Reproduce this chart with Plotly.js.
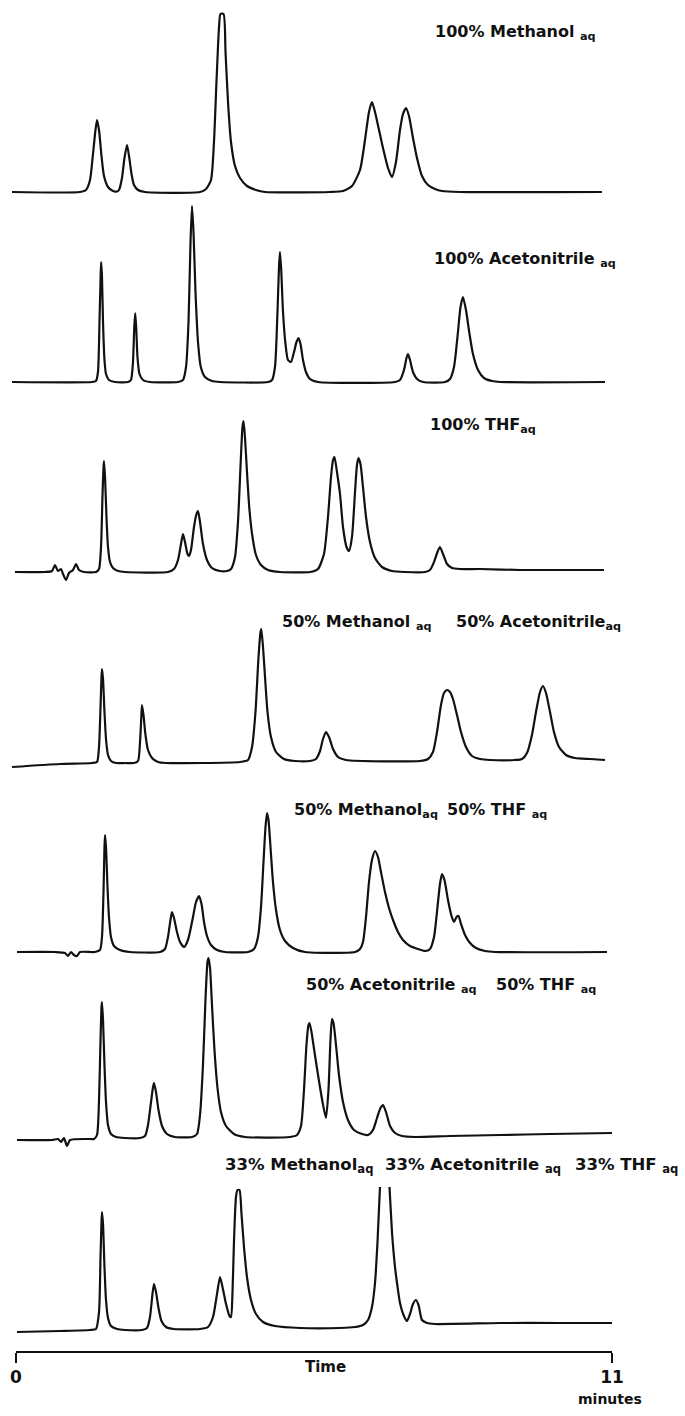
<!DOCTYPE html>
<html>
<head>
<meta charset="utf-8">
<script src="https://cdn.plot.ly/plotly-3.0.1.min.js"></script>
<style>
html,body{margin:0;padding:0;background:#fff;}
#chart{width:685px;height:1416px;}
</style>
</head>
<body>
<div id="chart"></div>
<script>
// ---------- DATA (time in minutes, detector response in arbitrary units) ----------
const time1 = [-0.074,1.181,1.292,1.366,1.421,1.467,1.495,1.532,1.578,1.624,1.698,1.790,1.864,1.901,1.956,2.002,2.049,2.086,2.132,2.178,2.252,2.381,3.396,3.507,3.599,3.654,3.700,3.747,3.774,3.830,3.867,3.913,3.968,4.042,4.134,4.263,4.429,4.596,5.795,6.035,6.201,6.349,6.441,6.515,6.570,6.626,6.700,6.773,6.866,6.939,7.013,7.087,7.142,7.198,7.253,7.327,7.401,7.493,7.604,7.733,7.862,8.194,10.815];
const resp1 = [0,0,2,12,38,62,72,62,36,16,5,1,0.5,2,14,34,47,36,18,7,2,0,0,3,12,50,110,165,178,178,140,90,50,26,14,6,2,0,0,1,6,22,52,80,90,80,62,44,24,15,30,62,78,84,76,54,34,16,7,3,1,0,0];

const time2 = [-0.074,1.403,1.476,1.513,1.541,1.564,1.572,1.587,1.606,1.633,1.661,1.716,1.827,2.067,2.122,2.159,2.183,2.200,2.218,2.242,2.279,2.344,2.473,2.990,3.082,3.138,3.184,3.221,3.248,3.276,3.313,3.359,3.411,3.488,3.617,3.765,4.651,4.725,4.780,4.826,4.854,4.872,4.895,4.928,4.974,5.020,5.075,5.131,5.177,5.214,5.251,5.297,5.352,5.426,5.574,6.995,7.087,7.161,7.207,7.235,7.272,7.327,7.401,7.512,7.918,8.010,8.084,8.148,8.204,8.250,8.305,8.370,8.434,8.527,8.637,8.785,8.933,10.871];
const resp2 = [0,0,1,10,60,110,120,105,60,22,8,2,0,0,2,20,55,69,55,25,8,2,0,0,2,15,60,140,176,150,90,40,15,5,1,0,0,2,15,70,115,130,112,70,38,22,20,30,40,44,38,22,10,3,0,0,2,12,24,28,22,10,3,0,0,3,15,45,75,85,72,48,28,12,4,1,0,0];

const time3 = [-0.018,0.535,0.664,0.720,0.775,0.831,0.867,0.923,0.978,1.052,1.107,1.163,1.255,1.476,1.532,1.569,1.596,1.615,1.624,1.643,1.670,1.698,1.735,1.790,1.883,2.012,2.805,2.916,2.990,3.045,3.082,3.119,3.165,3.193,3.230,3.285,3.331,3.359,3.396,3.451,3.525,3.617,3.765,3.894,3.968,4.042,4.097,4.143,4.180,4.199,4.226,4.263,4.309,4.365,4.429,4.522,4.651,4.872,5.426,5.574,5.684,5.758,5.814,5.851,5.878,5.924,5.980,6.035,6.100,6.146,6.201,6.257,6.293,6.321,6.358,6.404,6.460,6.533,6.626,6.755,6.939,7.179,7.549,7.641,7.715,7.779,7.825,7.881,7.955,8.047,8.194,8.564,9.302,10.852];
const resp3 = [0,0,1,7,1,3,-2,-8,-1,2,8,2,0,0,3,25,75,105,111,95,55,25,10,4,1,0,0,3,12,28,38,30,18,16,22,45,58,61,50,28,12,4,1,1,3,15,50,105,145,151,135,100,62,35,17,7,2,0,0,3,18,55,95,112,115,100,78,45,25,21,35,80,107,114,108,85,55,30,14,5,1,0,0,2,10,20,25,18,8,4,3,3,2,2];

const time4 = [-0.074,0.812,1.403,1.495,1.532,1.560,1.578,1.587,1.606,1.633,1.661,1.698,1.753,1.846,2.012,2.178,2.252,2.289,2.313,2.325,2.353,2.390,2.436,2.510,2.621,2.768,4.134,4.282,4.356,4.420,4.476,4.513,4.527,4.559,4.596,4.642,4.706,4.799,4.946,5.149,5.426,5.537,5.611,5.666,5.721,5.777,5.851,5.943,6.090,7.456,7.604,7.696,7.770,7.844,7.899,7.955,8.010,8.065,8.139,8.213,8.305,8.416,8.564,8.748,9.210,9.339,9.431,9.523,9.597,9.671,9.726,9.782,9.856,9.929,10.022,10.151,10.317,10.594,10.871];
const resp4 = [0,3,4,5,20,60,90,98,88,55,28,12,6,4,4,4,6,25,50,62,52,32,17,9,5,4,5,7,20,55,110,135,138,120,90,55,30,15,8,6,6,8,16,28,35,30,18,10,7,6,8,15,35,62,74,77,75,68,52,35,20,11,8,7,7,8,14,32,55,75,81,74,55,35,20,12,9,8,7];

const time5 = [0.018,0.720,0.904,0.960,1.015,1.070,1.126,1.181,1.458,1.550,1.587,1.615,1.633,1.643,1.661,1.689,1.716,1.753,1.809,1.919,2.104,2.658,2.750,2.805,2.851,2.879,2.916,2.971,3.027,3.101,3.174,3.267,3.322,3.378,3.424,3.470,3.525,3.599,3.710,3.857,4.282,4.393,4.466,4.522,4.568,4.605,4.632,4.660,4.697,4.743,4.799,4.872,4.965,5.112,5.334,6.257,6.349,6.404,6.460,6.515,6.570,6.626,6.681,6.736,6.810,6.884,6.958,7.050,7.142,7.272,7.419,7.549,7.641,7.715,7.770,7.825,7.862,7.908,7.973,8.038,8.084,8.130,8.167,8.213,8.287,8.379,8.490,8.656,8.840,10.908];
const resp5 = [0,0,-1,-4,0,-3,-4,0,0,2,15,60,105,117,105,65,35,15,6,2,0,0,3,15,32,40,34,20,10,5,12,35,50,56,48,30,16,7,2,0,0,3,15,45,90,125,139,132,105,70,42,22,11,4,0,0,3,10,35,70,92,101,95,80,60,44,32,20,12,6,3,1,3,15,40,68,78,72,52,36,30,35,36,28,17,9,4,1,0,0];

const time6 = [0.018,0.664,0.775,0.831,0.886,0.941,0.997,1.366,1.440,1.495,1.532,1.560,1.578,1.587,1.606,1.633,1.661,1.698,1.753,1.846,2.012,2.289,2.381,2.436,2.492,2.529,2.547,2.584,2.630,2.695,2.787,2.935,3.248,3.341,3.396,3.451,3.497,3.534,3.553,3.581,3.617,3.663,3.719,3.783,3.876,4.023,4.226,5.057,5.186,5.260,5.315,5.361,5.398,5.417,5.454,5.509,5.583,5.657,5.721,5.767,5.804,5.832,5.860,5.906,5.961,6.035,6.127,6.238,6.386,6.497,6.589,6.663,6.727,6.773,6.829,6.903,6.995,7.124,7.364,8.010,8.933,9.856,11.000];
const resp6 = [0,0,1,-2,2,-6,0,1,1,5,40,100,133,138,120,75,38,15,6,3,2,2,4,15,38,53,57,48,30,14,6,3,3,6,25,75,140,178,182,172,135,90,52,28,14,6,3,3,5,14,50,95,115,117,108,88,62,38,22,50,100,121,117,95,65,38,20,10,6,5,10,22,32,35,28,14,7,4,3,4,5,6,7];

const time7 = [0.018,0.812,1.366,1.476,1.532,1.560,1.578,1.587,1.606,1.633,1.661,1.698,1.753,1.864,2.012,2.325,2.418,2.473,2.519,2.547,2.584,2.630,2.685,2.768,2.916,3.396,3.544,3.636,3.710,3.765,3.811,3.876,3.940,3.968,3.996,4.023,4.060,4.088,4.125,4.162,4.208,4.263,4.337,4.429,4.559,4.780,5.242,5.980,6.257,6.404,6.497,6.570,6.626,6.672,6.718,6.755,6.801,6.847,6.893,6.939,6.995,7.032,7.087,7.152,7.216,7.272,7.327,7.382,7.429,7.493,7.585,7.733,8.933,10.040,11.000];
const resp7 = [0,1,2,3,20,75,110,120,108,65,32,14,6,3,2,2,4,15,38,48,40,24,11,5,3,3,5,15,38,55,45,28,16,15,40,90,135,142,142,118,85,55,32,18,10,6,4,4,5,7,12,25,49,90,145,175,185,175,145,100,65,49,29,17,11,18,28,32,27,12,9,8,9,9,9];

const panelLabels = [
  ["100% Methanol <sub>aq</sub>"],
  ["100% Acetonitrile <sub>aq</sub>"],
  ["100% THF<sub>aq</sub>"],
  ["50% Methanol <sub>aq</sub>", "50% Acetonitrile<sub>aq</sub>"],
  ["50% Methanol<sub>aq</sub>", "50% THF <sub>aq</sub>"],
  ["50% Acetonitrile <sub>aq</sub>", "50% THF <sub>aq</sub>"],
  ["33% Methanol<sub>aq</sub>", "33% Acetonitrile <sub>aq</sub>", "33% THF <sub>aq</sub>"]
];
const tickVals = [0, 11];
const tickText = ["0", "11"];
const axisTitle = "Time";
const axisUnit = "minutes";

// ---------- LAYOUT (positions in page pixels) ----------
const W = 685, H = 1416;
const x0px = 16, pxPerMin = 596 / 11;
const baselinePx = [192, 382, 572, 767, 952, 1140, 1332];
const topUnits = [185, 185, 185, 185, 185, 185, 145];
const padUnits = 12;
const labelPos = [
  [[433, 32]],
  [[432, 259]],
  [[428, 426]],
  [[280, 622], [454, 622]],
  [[292, 811], [445, 811]],
  [[304, 985], [494, 985]],
  [[223, 1165], [383, 1165], [573, 1165]]
];
const labelSize = [16, 16, 16, 16, 16, 16, 16.5];
const axisYpx = 1352;

const times = [time1, time2, time3, time4, time5, time6, time7];
const resps = [resp1, resp2, resp3, resp4, resp5, resp6, resp7];
const FONT = "DejaVu Sans";
const INK = "#111111";

const px2x = px => px / W;
const py2y = py => 1 - py / H;

const data = times.map((t, i) => ({
  x: t,
  y: resps[i],
  xaxis: "x",
  yaxis: i === 0 ? "y" : "y" + (i + 1),
  type: "scatter",
  mode: "lines",
  line: {color: INK, width: 2.2, shape: "spline", smoothing: 0.6},
  hoverinfo: "skip",
  showlegend: false
}));

const layout = {
  width: W, height: H,
  margin: {l: 0, r: 0, t: 0, b: 0},
  paper_bgcolor: "#ffffff",
  plot_bgcolor: "rgba(0,0,0,0)",
  showlegend: false,
  xaxis: {
    range: [-x0px / pxPerMin, (W - x0px) / pxPerMin],
    anchor: "free",
    position: py2y(axisYpx),
    showline: false, showgrid: false, zeroline: false,
    ticks: "outside", ticklen: 10, tickwidth: 2, tickcolor: INK,
    tickvals: tickVals,
    ticktext: tickText.map(s => "<b>" + s + "</b>"),
    tickfont: {family: FONT, size: 17, color: INK},
    fixedrange: true
  },
  shapes: [{
    type: "line", xref: "x", yref: "paper",
    x0: tickVals[0], x1: tickVals[1],
    y0: py2y(axisYpx), y1: py2y(axisYpx),
    line: {color: INK, width: 2}
  }],
  annotations: []
};

baselinePx.forEach((b, i) => {
  const key = i === 0 ? "yaxis" : "yaxis" + (i + 1);
  layout[key] = {
    domain: [py2y(b + padUnits), py2y(b - topUnits[i])],
    range: [-padUnits, topUnits[i]],
    visible: false,
    fixedrange: true,
    anchor: "x"
  };
});

panelLabels.forEach((group, i) => {
  group.forEach((txt, j) => {
    const p = labelPos[i][j];
    layout.annotations.push({
      xref: "paper", yref: "paper",
      x: px2x(p[0]), y: py2y(p[1]),
      xanchor: "left", yanchor: "middle",
      text: "<b>" + txt + "</b>",
      showarrow: false,
      font: {family: FONT, size: labelSize[i], color: INK}
    });
  });
});

layout.annotations.push({
  xref: "paper", yref: "paper",
  x: px2x(325), y: py2y(1367),
  xanchor: "center", yanchor: "middle",
  text: "<b>" + axisTitle + "</b>", showarrow: false,
  font: {family: FONT, size: 15, color: INK}
});
layout.annotations.push({
  xref: "paper", yref: "paper",
  x: px2x(610), y: py2y(1399),
  xanchor: "center", yanchor: "middle",
  text: "<b>" + axisUnit + "</b>", showarrow: false,
  font: {family: FONT, size: 14, color: INK}
});

Plotly.newPlot("chart", data, layout, {displayModeBar: false, staticPlot: true});
</script>
</body>
</html>
